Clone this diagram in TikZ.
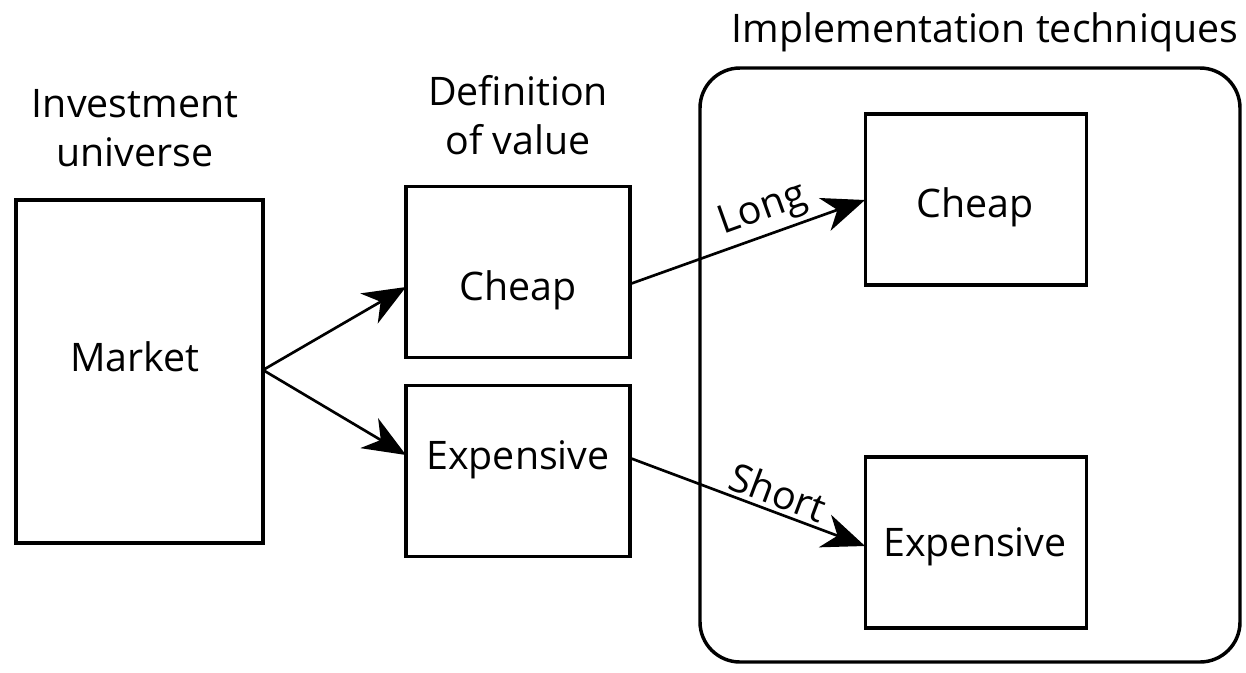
\documentclass[tikz,border=0pt]{standalone}
\usepackage{fontspec}
\setmainfont{Open Sans}
\usetikzlibrary{arrows.meta}
\begin{document}
\begin{tikzpicture}[x=0.75pt,y=-0.75pt,
  box/.style={draw,line width=2.6pt,inner sep=0pt},
  lbl/.style={font=\fontsize{29.5}{37}\selectfont,align=center},
  arr/.style={line width=2pt,-{Stealth[length=32pt,width=26pt,inset=10pt]}}]
\useasboundingbox (0,0) rectangle (1246,672);
\draw[line width=2.6pt,rounded corners=30pt] (700,68) rectangle (1240,662);
\node[box,minimum width=185pt,minimum height=257pt] (mkt) at (139.5,371.5) {};
\node[box,minimum width=168pt,minimum height=128pt] (c1) at (518,272) {};
\node[box,minimum width=168pt,minimum height=128pt] (e1) at (518,471) {};
\node[box,minimum width=166pt,minimum height=128pt] (c2) at (976,199.5) {};
\node[box,minimum width=166pt,minimum height=128pt] (e2) at (976,542.5) {};
\node[lbl] (mt) at (135,357) {Market};
\node[lbl] (ct1) at (518,290) {Cheap};
\node[lbl] (et1) at (518,460) {Expensive};
\node[lbl] (ct2) at (975,207) {Cheap};
\node[lbl] (et2) at (975,547) {Expensive};
\node[lbl] (t1) at (135,128) {Investment\\universe};
\node[lbl] (t2) at (518,115) {Definition\\of value};
\node[lbl] (t3) at (985,32) {Implementation techniques};
\coordinate (m) at (263,370);
\coordinate (c1l) at (406,287);
\coordinate (e1l) at (406,455);
\coordinate (c1r) at (630,284);
\coordinate (c2l) at (865,200);
\coordinate (e1r) at (630,458);
\coordinate (e2l) at (865,546);
\draw[arr] (m) -- (c1l);
\draw[arr] (m) -- (e1l);
\draw[arr] (c1r) -- node[lbl,sloped,above,pos=0.6,inner sep=3pt] (long) {Long} (c2l);
\draw[arr] (e1r) -- node[lbl,sloped,above,pos=0.6,inner sep=3pt] (short) {Short} (e2l);
\end{tikzpicture}
\end{document}
